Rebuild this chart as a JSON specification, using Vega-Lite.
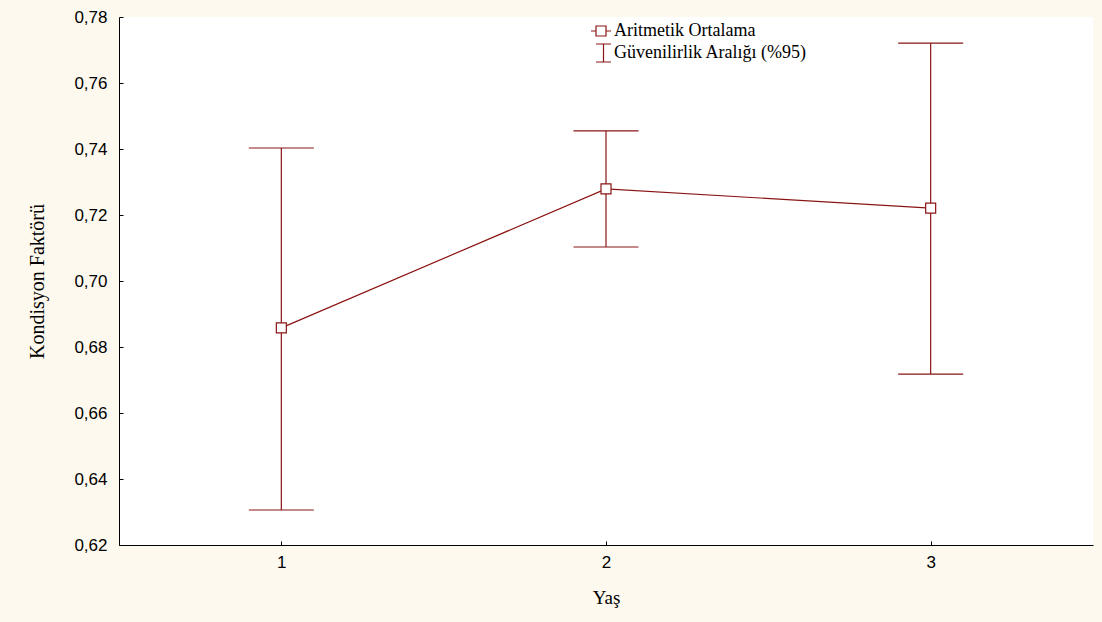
{
  "$schema": "https://vega.github.io/schema/vega-lite/v6.json",
  "width": 974,
  "height": 528,
  "autosize": {"type": "none"},
  "padding": {"left": 119, "top": 17, "right": 9, "bottom": 77},
  "background": "#FDF9EF",
  "config": {
    "locale": {"number": {"decimal": ",", "thousands": ".", "grouping": [3], "currency": ["", ""]}},
    "view": {"fill": "white", "stroke": null},
    "axis": {
      "grid": false,
      "domainColor": "#000000",
      "domainWidth": 1,
      "tickColor": "#000000",
      "tickSize": -4,
      "labelFont": "Liberation Sans",
      "labelFontSize": 17,
      "labelColor": "#000000",
      "titleFont": "Liberation Serif",
      "titleFontSize": 19,
      "titleFontWeight": "normal",
      "titleColor": "#000000"
    }
  },
  "data": {
    "values": [
      {"yas": 1, "mean": 0.6858, "lower": 0.6306, "upper": 0.7403, "series": "Aritmetik Ortalama"},
      {"yas": 2, "mean": 0.7279, "lower": 0.7103, "upper": 0.7455, "series": "Aritmetik Ortalama"},
      {"yas": 3, "mean": 0.7221, "lower": 0.6718, "upper": 0.7721, "series": "Aritmetik Ortalama"}
    ]
  },
  "encoding": {
    "x": {
      "field": "yas",
      "type": "quantitative",
      "scale": {"domain": [0.5, 3.5], "nice": false, "zero": false},
      "axis": {"values": [1, 2, 3], "format": "d", "title": "Yaş", "labelPadding": 13, "titlePadding": 18}
    }
  },
  "layer": [
    {
      "mark": {"type": "rule", "color": "#8A1414", "strokeWidth": 1.2},
      "encoding": {
        "y": {
          "field": "lower",
          "type": "quantitative",
          "scale": {"domain": [0.62, 0.78], "nice": false, "zero": false},
          "axis": {"values": [0.62, 0.64, 0.66, 0.68, 0.70, 0.72, 0.74, 0.76, 0.78], "format": ".2f", "title": "Kondisyon Faktörü", "titleFontSize": 20, "labelPadding": 16, "titlePadding": 26}
        },
        "y2": {"field": "upper"}
      }
    },
    {
      "mark": {"type": "tick", "orient": "horizontal", "color": "#8A1414", "size": 65, "thickness": 1.2, "opacity": 1},
      "encoding": {"y": {"field": "upper", "type": "quantitative"}}
    },
    {
      "mark": {"type": "tick", "orient": "horizontal", "color": "#8A1414", "size": 65, "thickness": 1.2, "opacity": 1},
      "encoding": {"y": {"field": "lower", "type": "quantitative"}}
    },
    {
      "mark": {"type": "line", "color": "#8A1414", "strokeWidth": 1.2},
      "encoding": {"y": {"field": "mean", "type": "quantitative"}}
    },
    {
      "mark": {"type": "point", "shape": "square", "size": 100, "filled": false, "fill": "white", "fillOpacity": 1, "stroke": "#8A1414", "strokeWidth": 1.2, "opacity": 1},
      "encoding": {"y": {"field": "mean", "type": "quantitative"}}
    },
    {
      "mark": {"type": "point", "opacity": 0, "size": 400, "filled": false},
      "encoding": {
        "y": {"field": "mean", "type": "quantitative"},
        "shape": {
          "field": "series",
          "type": "nominal",
          "scale": {
            "domain": ["Aritmetik Ortalama", "Güvenilirlik Aralığı (%95)"],
            "range": ["M-1,0H-0.5M0.5,0H1M-0.5,-0.5H0.5V0.5H-0.5Z", "M-0.5,-0.9H1M0.25,-0.9V0.9M-0.5,0.9H1"]
          },
          "legend": {
            "title": null,
            "orient": "none",
            "legendX": 471,
            "legendY": 3,
            "padding": 0,
            "symbolOpacity": 1,
            "symbolSize": 400,
            "symbolStrokeColor": "#8A1414",
            "symbolFillColor": "white",
            "symbolStrokeWidth": 1.2,
            "labelFont": "Liberation Serif",
            "labelFontSize": 18,
            "labelColor": "#000000",
            "labelOffset": 2,
            "rowPadding": 1,
            "labelLimit": 400
          }
        }
      }
    }
  ]
}
